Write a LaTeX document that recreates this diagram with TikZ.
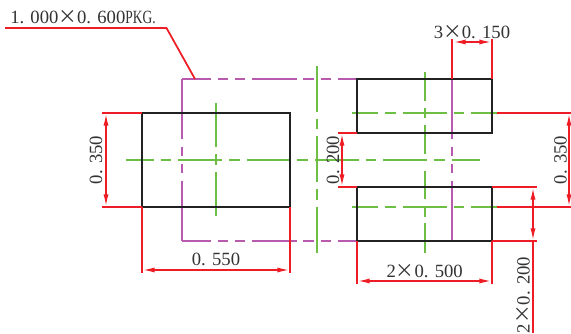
\documentclass[tikz,border=0pt]{standalone}
\usepackage{fontspec}
\usepackage{graphicx}
\setmainfont{Liberation Serif}
\newfontfamily\cjk{Noto Sans CJK SC}
\usetikzlibrary{arrows.meta}
\newcommand{\bytimes}{{\cjk ×}}
\begin{document}
\begin{tikzpicture}[x=0.75pt,y=-0.75pt,
    pad/.style ={rectangle, draw=padblack, line width=1.3pt, inner sep=0pt, outer sep=0pt},
    centerline/.style ={draw=cgreen, line width=1.2pt, dash pattern=on 33pt off 5.2pt on 7.9pt off 5.2pt},
    outline/.style ={draw=opurple, line width=1.3pt},
    extline/.style ={draw=dimred, line width=1.3pt},
    dimline/.style ={draw=dimred, line width=1.3pt, {Latex[length=9.5pt,width=3.8pt]}-{Latex[length=9.5pt,width=3.8pt]}},
    dimtext/.style ={text=txtgray, font=\fontsize{14pt}{14pt}\selectfont, inner sep=0pt, anchor=base}]
   \definecolor{padblack}{HTML}{222222}
   \definecolor{cgreen}{HTML}{6CBE45}
   \definecolor{opurple}{HTML}{B85AAE}
   \definecolor{dimred}{HTML}{EE1C25}
   \definecolor{txtgray}{HTML}{333333}
   \useasboundingbox (0,0) rectangle (571,334);
   % package outline
   \coordinate (pkgNW) at (182,79);
   \coordinate (pkgNE) at (452,79);
   \coordinate (pkgSW) at (182,241);
   \coordinate (pkgSE) at (452,241);
   \coordinate (pkgleader) at (195,79);
   \draw[outline, dash pattern=on 33.3pt off 5.1pt on 7.8pt off 5.1pt on 7.8pt off 5.1pt, dash phase=11.5pt] (pkgNW) -- (pkgNE);
   \draw[outline, dash pattern=on 33.3pt off 5.1pt on 7.8pt off 5.1pt on 7.8pt off 5.1pt, dash phase=11.5pt] (pkgSW) -- (pkgSE);
   \draw[outline, dash pattern=on 45.2pt off 5.6pt on 7.2pt off 5.6pt on 7.2pt off 5.6pt] (pkgNW) -- (pkgSW);
   \draw[outline, dash pattern=on 45.2pt off 5.6pt on 7.2pt off 5.6pt on 7.2pt off 5.6pt] (pkgNE) -- (pkgSE);
   % center lines
   \coordinate (hLa) at (126,160);
   \coordinate (hLb) at (479.5,160);
   \coordinate (vLa) at (216,103.3);
   \coordinate (vLb) at (216,216.7);
   \coordinate (vMa) at (317,66);
   \coordinate (vMb) at (317,254);
   \coordinate (hTa) at (352.3,113);
   \coordinate (hTb) at (497.3,113);
   \coordinate (vTa) at (425,72.3);
   \coordinate (vTb) at (425,154);
   \coordinate (hBa) at (352.3,207);
   \coordinate (hBb) at (497.3,207);
   \coordinate (vBa) at (425,170.7);
   \coordinate (vBb) at (425,252.7);
   \draw[centerline, dash phase=12.2pt] (hLa) -- (hLb);
   \draw[centerline] (vLa) -- (vLb);
   \draw[centerline, dash pattern=on 34.5pt off 5.2pt on 7.9pt off 5.2pt] (vMa) -- (vMb);
   \draw[centerline, dash phase=13.5pt] (hTa) -- (hTb);
   \draw[centerline, dash phase=13.5pt] (hBa) -- (hBb);
   \draw[centerline, dash phase=11.7pt] (vTa) -- (vTb);
   \draw[centerline, dash phase=11.7pt] (vBa) -- (vBb);
   % extension lines
   \coordinate (eLt) at (102,113);
   \coordinate (eLb) at (102,207);
   \coordinate (eLl) at (142,273);
   \coordinate (eLr) at (290,273);
   \coordinate (eMt) at (338,133);
   \coordinate (eMb) at (338,187);
   \coordinate (eBl) at (357,284);
   \coordinate (eBr) at (492,284);
   \coordinate (eTl) at (452,39);
   \coordinate (eTr) at (492,39);
   \coordinate (eRt) at (497.3,113);
   \coordinate (eRts) at (571,113);
   \coordinate (eRb) at (497.3,207);
   \coordinate (eRbs) at (571,207);
   \coordinate (eQt) at (537,187);
   \coordinate (eQb) at (537,241);
   \node[pad, minimum width=111pt, minimum height=70.5pt] (padL) at (216,160) {};
   \node[pad, minimum width=101.25pt, minimum height=40.5pt] (padT) at (424.5,106) {};
   \node[pad, minimum width=101.25pt, minimum height=40.5pt] (padB) at (424.5,214) {};
   \draw[extline] (eLt) -- (padL.north west);
   \draw[extline] (eLb) -- (padL.south west);
   \draw[extline] (padL.south west) -- (eLl);
   \draw[extline] (padL.south east) -- (eLr);
   \draw[extline] (eMt) -- (padT.south west);
   \draw[extline] (eMb) -- (padB.north west);
   \draw[extline] (padB.south west) -- (eBl);
   \draw[extline] (padB.south east) -- (eBr);
   \draw[extline] (pkgNE) -- (eTl);
   \draw[extline] (padT.north east) -- (eTr);
   \draw[extline] (eRt) -- (eRts);
   \draw[extline] (eRb) -- (eRbs);
   \draw[extline] (padB.north east) -- (eQt);
   \draw[extline] (padB.south east) -- (eQb);
   % dimension lines
   \coordinate (dLt) at (106,113);
   \coordinate (dLb) at (106,207);
   \coordinate (dSl) at (142,270);
   \coordinate (dSr) at (290,270);
   \coordinate (dMt) at (342,133);
   \coordinate (dMb) at (342,187);
   \coordinate (dBl) at (357,281);
   \coordinate (dBr) at (492,281);
   \coordinate (dTl) at (453,42);
   \coordinate (dTr) at (492,42);
   \coordinate (dRt) at (569,113);
   \coordinate (dRb) at (569,207);
   \coordinate (dQt) at (533,187);
   \coordinate (dQb) at (533,241);
   \coordinate (dQe) at (533,333);
   \draw[dimline] (dLt) -- (dLb);
   \draw[dimline] (dSl) -- (dSr);
   \draw[dimline] (dMt) -- (dMb);
   \draw[dimline] (dBl) -- (dBr);
   \draw[dimline] (dTl) -- (dTr);
   \draw[dimline] (dRt) -- (dRb);
   \draw[dimline] (dQt) -- (dQb);
   \draw[extline] (dQb) -- (dQe);
   % leader
   \coordinate (leadA) at (5,28);
   \coordinate (leadB) at (166.5,28);
   \draw[extline] (leadA) -- (leadB) -- (pkgleader);
   % labels
   \node[dimtext, anchor=base west] (tPkg) at (10,24) {1. 000\bytimes 0. 600\scalebox{0.72}[1]{PKG.}};
   \node[dimtext] (tTop) at (472,39) {3\bytimes 0. 150};
   \node[dimtext] (tS) at (216,266) {0. 550};
   \node[dimtext] (tB) at (424.7,278) {2\bytimes 0. 500};
   \node[dimtext, rotate=90] (tL) at (102,160) {0. 350};
   \node[dimtext, rotate=90] (tM) at (339,160) {0. 200};
   \node[dimtext, rotate=90] (tR) at (566.5,160) {0. 350};
   \node[dimtext, rotate=90] (tQ) at (529.7,295) {2\bytimes 0. 200};
 \end{tikzpicture}
\end{document}
